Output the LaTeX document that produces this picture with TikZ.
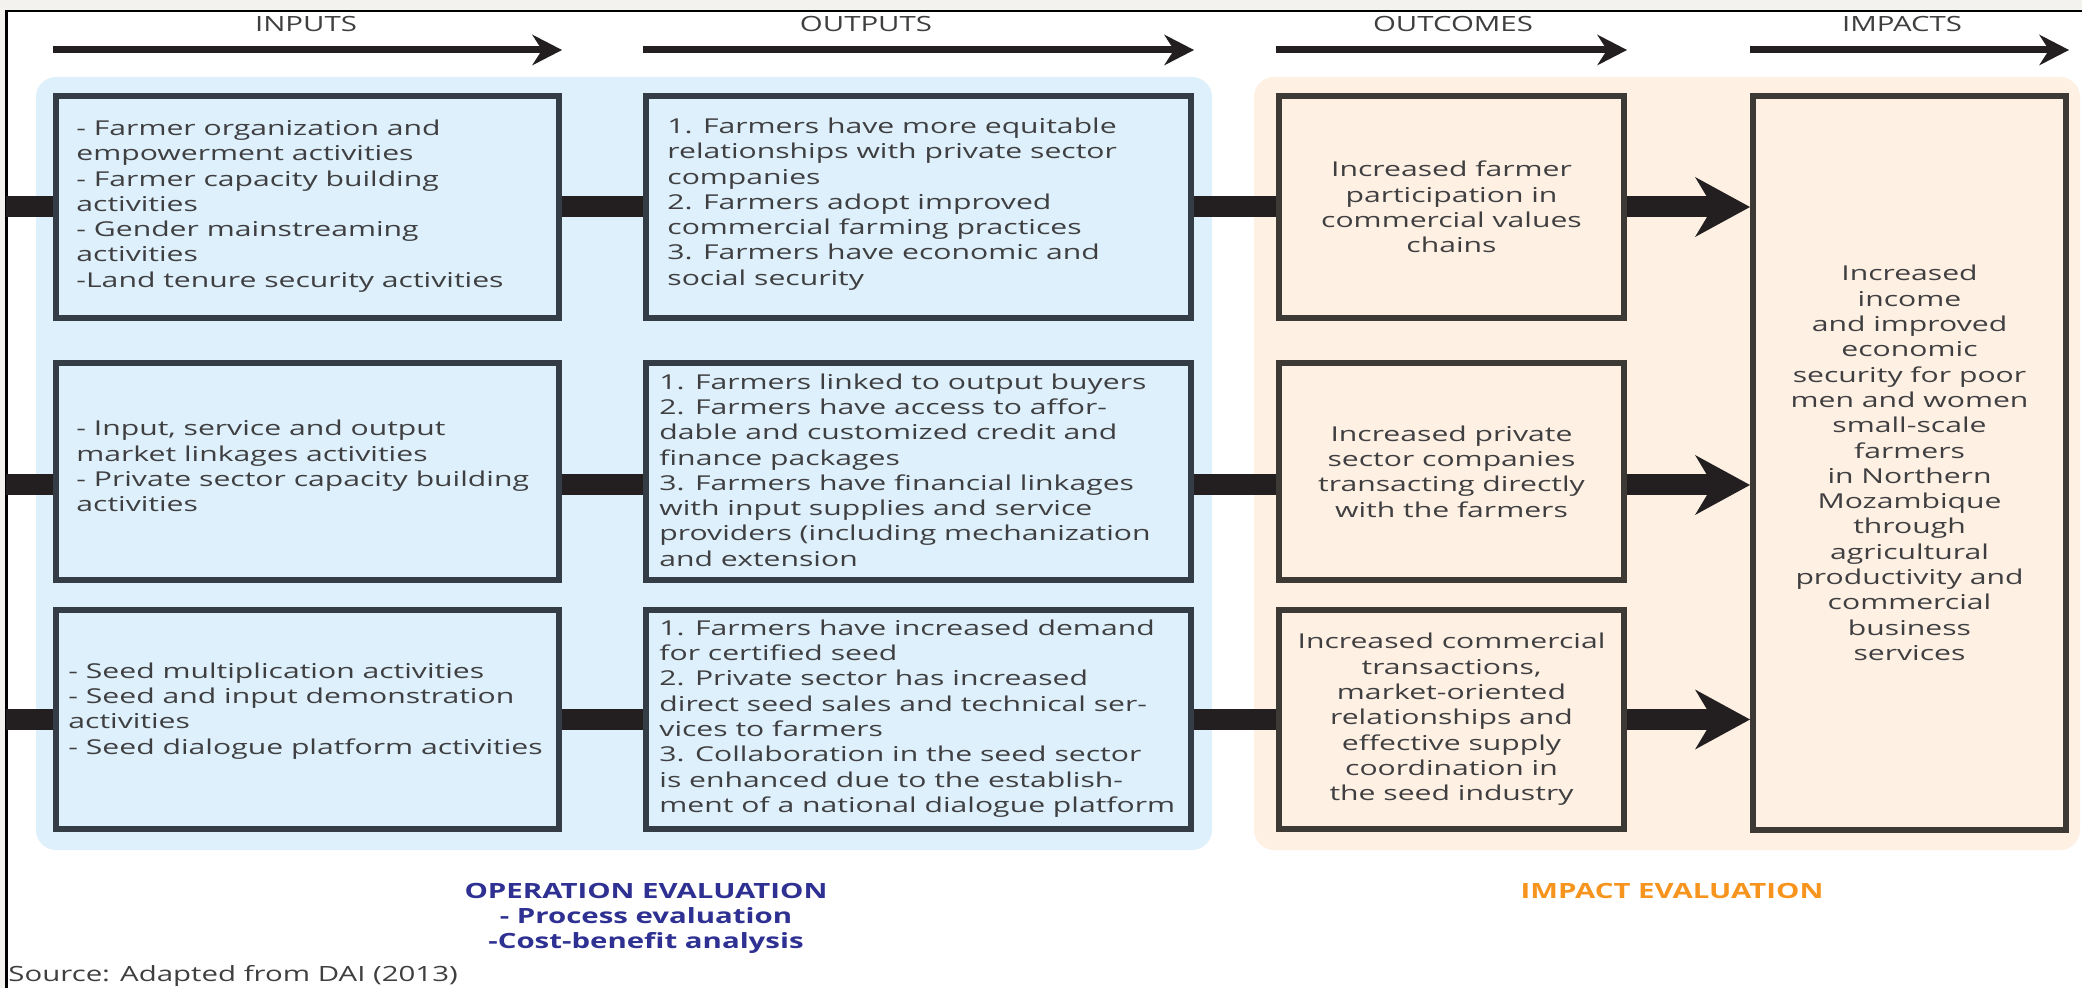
\documentclass[tikz,border=0pt]{standalone}
\usepackage{fontspec}
\setmainfont{Open Sans}
\newfontfamily\boxfont{Open Sans}[FakeStretch=1.47]
\newfontfamily\headfont{Open Sans}[FakeStretch=1.4]
\newfontfamily\footfont{Open Sans}[FakeStretch=1.4]
\usetikzlibrary{arrows.meta,positioning}

\definecolor{panelblue}{HTML}{DDF0FB}
\definecolor{panelpeach}{HTML}{FEF0E3}
\definecolor{edgeblue}{HTML}{343D45}
\definecolor{edgebrown}{HTML}{3D3935}
\definecolor{barblack}{HTML}{231F20}
\definecolor{textgray}{HTML}{3F3F41}
\definecolor{evalnavy}{HTML}{2E3192}
\definecolor{evalorange}{HTML}{F7941D}
\definecolor{margingray}{HTML}{F3F2EE}

\begin{document}
\begin{tikzpicture}[x=0.5pt,y=-0.5pt,
    box/.style={line width=3pt,inner sep=0pt},
    bluebox/.style={box,draw=edgeblue,fill=panelblue},
    peachbox/.style={box,draw=edgebrown,fill=panelpeach,text=textgray,align=center,
      font=\boxfont\fontsize{10.25pt}{12.65pt}\selectfont},
    boxtext/.style={inner sep=0pt,text=textgray,align=left,anchor=west,
      font=\boxfont\fontsize{10.25pt}{12.65pt}\selectfont},
    bar/.style={draw=barblack,line width=10.5pt},
    bigarrow/.style={bar,-{Stealth[length=27.5pt,width=30pt,inset=9pt,line width=0pt]}},
    toparrow/.style={draw=barblack,line width=3.5pt,
      -{Stealth[length=15pt,width=15.5pt,inset=5pt,line width=0pt]}},
    stage/.style={text=textgray,font=\headfont\fontsize{10.5pt}{12.6pt}\selectfont},
    evaltext/.style={align=center,font=\footfont\bfseries\fontsize{10.5pt}{12.5pt}\selectfont}]

  \useasboundingbox (0,0) rectangle (2082,988);
  % grey page edge and the frame lines
  \fill[margingray] (0,0) rectangle (2082,10);
  \fill[margingray] (0,0) rectangle (5,988);
  \draw[line width=1.25pt] (5,11) -- (2082,11);
  \draw[line width=1.5pt] (6,11) -- (6,988);

  % operation and impact areas
  \fill[panelblue,rounded corners=10pt] (36,77) rectangle (1212,850);
  \fill[panelpeach,rounded corners=10pt] (1254,77) rectangle (2080,850);

  \coordinate (frm) at (6,0);
  \coordinate (hdr) at (0,50);
  \coordinate (row2) at (0,485);

  % inputs
  \node[bluebox,minimum width=251.5pt,minimum height=111pt] (inp1) at (307.5,207) {};
  \node[bluebox,minimum width=251.5pt,minimum height=108.5pt] (inp2) at (307.5,471.5) {};
  \node[bluebox,minimum width=251.5pt,minimum height=109.5pt] (inp3) at (307.5,719.5) {};
  \node[boxtext] (inp1t) at (76,206) {- Farmer organization and\\empowerment activities\\- Farmer capacity building\\activities\\- Gender mainstreaming\\activities\\-Land tenure security activities};
  \node[boxtext] (inp2t) at (76,466) {- Input, service and output\\market linkages activities\\- Private sector capacity building\\activities};
  \node[boxtext] (inp3t) at (68,711) {- Seed multiplication activities\\- Seed and input demonstration\\activities\\- Seed dialogue platform activities};

  % outputs
  \node[bluebox,minimum width=272.5pt,minimum height=111pt] (outp1) at (918.5,207) {};
  \node[bluebox,minimum width=272.5pt,minimum height=108.5pt] (outp2) at (918.5,471.5) {};
  \node[bluebox,minimum width=272.5pt,minimum height=109.5pt] (outp3) at (918.5,719.5) {};
  \node[boxtext] (outp1t) at (667,204) {1. Farmers have more equitable\\relationships with private sector\\companies\\2. Farmers adopt improved\\commercial farming practices\\3. Farmers have economic and\\social security};
  \node[boxtext] (outp2t) at (659,470) {1. Farmers linked to output buyers\\2. Farmers have access to affor-\\dable and customized credit and\\finance packages\\3. Farmers have financial linkages\\with input supplies and service\\providers (including mechanization\\and extension};
  \node[boxtext] (outp3t) at (659,718.5) {1. Farmers have increased demand\\for certified seed\\2. Private sector has increased\\direct seed sales and technical ser-\\vices to farmers\\3. Collaboration in the seed sector\\is enhanced due to the establish-\\ment of a national dialogue platform};

  % outcomes and impact
  \node[peachbox,minimum width=172.5pt,minimum height=111pt] (outc1) at (1451.5,207) {Increased farmer\\participation in\\commercial values\\chains};
  \node[peachbox,minimum width=172.5pt,minimum height=108.5pt] (outc2) at (1451.5,471.5) {Increased private\\sector companies\\transacting directly\\with the farmers};
  \node[peachbox,minimum width=172.5pt,minimum height=109.5pt] (outc3) at (1451.5,719.5) {Increased commercial\\transactions,\\market-oriented\\relationships and\\effective supply\\coordination in\\the seed industry};
  \node[peachbox,minimum width=156.5pt,minimum height=367pt] (impact) at (1909.5,463) {Increased\\income\\and improved\\economic\\security for poor\\men and women\\small-scale\\farmers\\in Northern\\Mozambique\\through\\agricultural\\productivity and\\commercial\\business\\services};

  % links between the columns
  \draw[bar] (frm |- inp1) -- (inp1);
  \draw[bar] (frm |- row2) -- (inp2.west |- row2);
  \draw[bar] (frm |- inp3) -- (inp3);
  \draw[bar] (inp1) -- (outp1);
  \draw[bar] (inp2.east |- row2) -- (outp2.west |- row2);
  \draw[bar] (inp3) -- (outp3);
  \draw[bar] (outp1) -- (outc1);
  \draw[bar] (outp2.east |- row2) -- (outc2.west |- row2);
  \draw[bar] (outp3) -- (outc3);
  \draw[bigarrow] (outc1) -- (outc1 -| impact.west);
  \draw[bigarrow] (outc2.east |- row2) -- (impact.west |- row2);
  \draw[bigarrow] (outc3) -- (outc3 -| impact.west);

  % column headings
  \node[stage] (hinp) at (306,24) {INPUTS};
  \node[stage] (houtp) at (866,24) {OUTPUTS};
  \node[stage] (houtc) at (1453,24) {OUTCOMES};
  \node[stage] (himp) at (1902,24) {IMPACTS};
  \draw[toparrow] (inp1.west |- hdr) -- (inp1.east |- hdr);
  \draw[toparrow] (outp1.west |- hdr) -- (outp1.east |- hdr);
  \draw[toparrow] (outc1.west |- hdr) -- (outc1.east |- hdr);
  \draw[toparrow] (impact.west |- hdr) -- (impact.east |- hdr);

  % evaluation labels
  \node[evaltext,text=evalnavy] (opeval) at (646,918) {OPERATION EVALUATION\\- Process evaluation\\-Cost-benefit analysis};
  \node[evaltext,text=evalorange] (impeval) at (1672,891) {IMPACT EVALUATION};
  \node[anchor=base west,inner sep=0pt,text=textgray,
    font=\footfont\fontsize{10.5pt}{12.5pt}\selectfont] (source) at (8,981) {Source: Adapted from DAI (2013)};
\end{tikzpicture}
\end{document}
